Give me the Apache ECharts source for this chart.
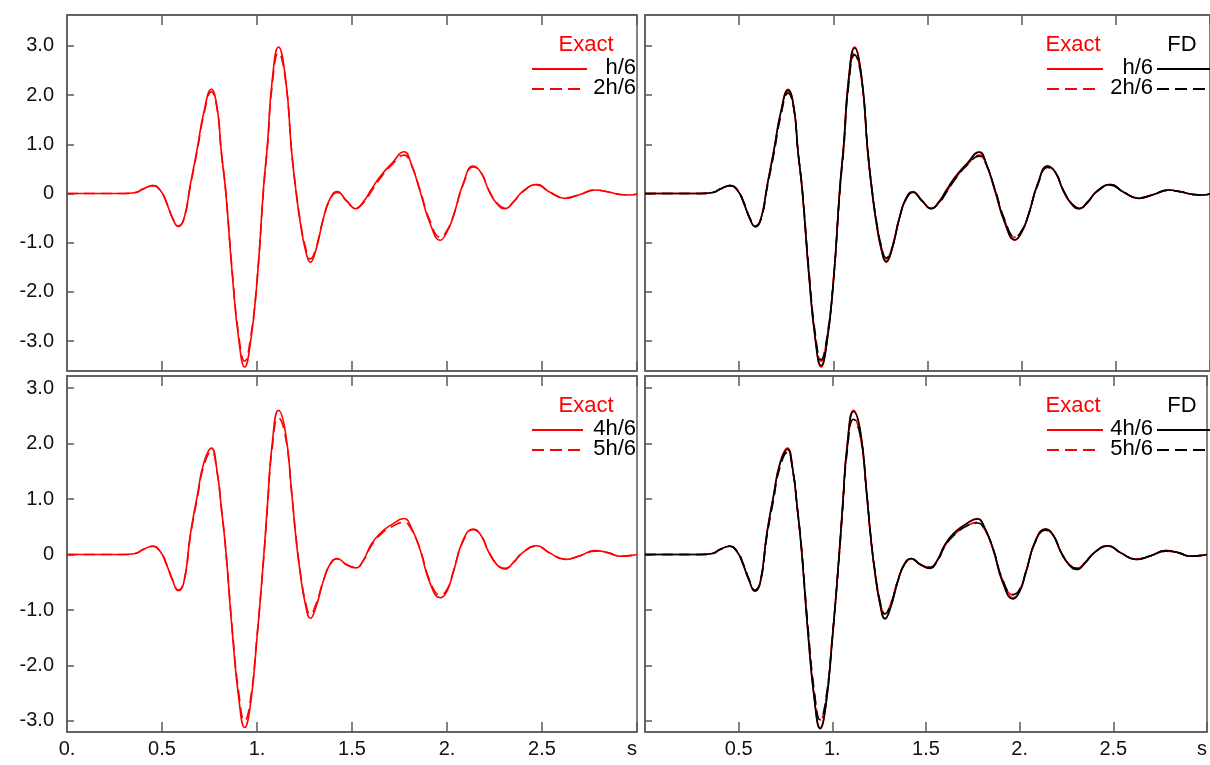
<!DOCTYPE html>
<html>
<head>
<meta charset="utf-8">
<script src="https://cdn.jsdelivr.net/npm/echarts@6/dist/echarts.min.js"></script>
<style>
html,body{margin:0;padding:0;background:#fff;}
#chart{width:1210px;height:765px;}
</style>
</head>
<body>
<div id="chart"></div>
<script>
// ---------- data ----------
const xs = [0, 0.15, 0.30, 0.36, 0.40, 0.45, 0.49, 0.525, 0.555, 0.586,
  0.615, 0.65, 0.685, 0.72, 0.76, 0.79, 0.812, 0.835, 0.87, 0.905,
  0.935, 0.965, 1.0, 1.035, 1.055, 1.08, 1.113, 1.15, 1.183, 1.205,
  1.228, 1.255, 1.281, 1.31, 1.35, 1.385, 1.422, 1.47, 1.52, 1.56,
  1.60, 1.647, 1.709, 1.775, 1.81, 1.858, 1.91, 1.965, 2.0, 2.033,
  2.086, 2.138, 2.18, 2.22, 2.265, 2.305, 2.35, 2.40, 2.472, 2.54,
  2.621, 2.70, 2.779, 2.85, 2.91, 2.96, 3.0];

// top row: h/6 (solid), 2h/6 (dashed)
const exactH1 = [0, 0, 0, 0.02, 0.09, 0.16, 0.07, -0.2, -0.5, -0.67,
  -0.52, 0.2, 0.9, 1.65, 2.12, 1.75, 0.85, 0.05, -1.65, -3.0,
  -3.53, -3.05, -1.8, 0.15, 1.0, 2.3, 2.98, 2.35, 0.82, 0.05,
  -0.6, -1.15, -1.40, -1.15, -0.5, -0.1, 0.04, -0.14, -0.31, -0.17,
  0.07, 0.34, 0.61, 0.85, 0.62, 0.05, -0.6, -0.95, -0.78, -0.47,
  0.21, 0.56, 0.42, 0.06, -0.22, -0.31, -0.17, 0.05, 0.18, 0.03,
  -0.10, -0.02, 0.07, 0.03, -0.02, -0.03, -0.01];
const exactH2 = [0, 0, 0, 0.02, 0.09, 0.16, 0.07, -0.19, -0.49, -0.66,
  -0.52, 0.17, 0.86, 1.6, 2.07, 1.72, 0.85, 0.07, -1.6, -2.92,
  -3.41, -2.96, -1.77, 0.1, 0.95, 2.2, 2.86, 2.3, 0.83, 0.08,
  -0.56, -1.09, -1.33, -1.11, -0.5, -0.12, 0.02, -0.15, -0.3, -0.19,
  0.03, 0.3, 0.58, 0.78, 0.6, 0.07, -0.55, -0.89, -0.75, -0.46,
  0.19, 0.54, 0.42, 0.07, -0.2, -0.3, -0.17, 0.04, 0.18, 0.03,
  -0.09, -0.02, 0.07, 0.03, -0.02, -0.03, -0.01];
const fdH1 = [0, 0, 0, 0.02, 0.09, 0.16, 0.07, -0.2, -0.5, -0.68,
  -0.53, 0.18, 0.88, 1.63, 2.1, 1.76, 0.87, 0.06, -1.63, -2.98,
  -3.5, -3.06, -1.82, 0.12, 0.98, 2.27, 2.96, 2.38, 0.85, 0.07,
  -0.58, -1.13, -1.38, -1.16, -0.52, -0.11, 0.03, -0.14, -0.31, -0.18,
  0.06, 0.33, 0.6, 0.84, 0.63, 0.07, -0.58, -0.94, -0.79, -0.48,
  0.2, 0.56, 0.43, 0.07, -0.21, -0.31, -0.18, 0.05, 0.18, 0.03,
  -0.1, -0.02, 0.07, 0.03, -0.02, -0.03, -0.01];
const fdH2 = [0, 0, 0, 0.02, 0.09, 0.16, 0.08, -0.18, -0.48, -0.66,
  -0.53, 0.14, 0.82, 1.56, 2.04, 1.73, 0.88, 0.1, -1.55, -2.88,
  -3.38, -2.95, -1.8, 0.06, 0.9, 2.15, 2.82, 2.32, 0.88, 0.1,
  -0.53, -1.07, -1.31, -1.12, -0.52, -0.13, 0.02, -0.15, -0.3, -0.2,
  0.02, 0.29, 0.57, 0.76, 0.6, 0.09, -0.53, -0.88, -0.76, -0.47,
  0.18, 0.53, 0.42, 0.08, -0.2, -0.3, -0.18, 0.04, 0.17, 0.03,
  -0.09, -0.02, 0.06, 0.03, -0.02, -0.03, -0.01];

// bottom row: 4h/6 (solid), 5h/6 (dashed)
const exactH4 = [0, 0, 0, 0.02, 0.09, 0.15, 0.06, -0.19, -0.46, -0.65,
  -0.5, 0.38, 1.05, 1.65, 1.92, 1.5, 0.85, 0.1, -1.4, -2.62,
  -3.12, -2.72, -1.5, -0.05, 0.9, 2.0, 2.6, 2.2, 1.1, 0.3,
  -0.35, -0.9, -1.15, -0.95, -0.47, -0.17, -0.07, -0.18, -0.24, -0.1,
  0.18, 0.38, 0.54, 0.65, 0.5, 0.09, -0.51, -0.78, -0.66, -0.32,
  0.27, 0.46, 0.34, 0.04, -0.19, -0.26, -0.14, 0.04, 0.16, 0.03,
  -0.09, -0.02, 0.07, 0.03, -0.03, -0.02, 0];
const exactH5 = [0, 0, 0, 0.02, 0.09, 0.15, 0.06, -0.18, -0.45, -0.64,
  -0.5, 0.34, 1.0, 1.6, 1.86, 1.48, 0.85, 0.12, -1.35, -2.52,
  -3.0, -2.63, -1.47, -0.08, 0.85, 1.92, 2.47, 2.12, 1.1, 0.32,
  -0.31, -0.85, -1.08, -0.9, -0.46, -0.18, -0.08, -0.18, -0.23, -0.11,
  0.15, 0.35, 0.5, 0.58, 0.47, 0.1, -0.47, -0.73, -0.63, -0.31,
  0.25, 0.45, 0.34, 0.05, -0.18, -0.25, -0.14, 0.04, 0.15, 0.03,
  -0.08, -0.02, 0.06, 0.03, -0.03, -0.02, 0];
const fdH4 = [0, 0, 0, 0.02, 0.09, 0.15, 0.06, -0.19, -0.46, -0.66,
  -0.51, 0.36, 1.03, 1.63, 1.9, 1.51, 0.87, 0.11, -1.42, -2.64,
  -3.14, -2.74, -1.53, -0.07, 0.88, 1.98, 2.58, 2.22, 1.13, 0.31,
  -0.34, -0.9, -1.16, -0.97, -0.48, -0.17, -0.07, -0.18, -0.25, -0.11,
  0.17, 0.38, 0.54, 0.64, 0.51, 0.1, -0.5, -0.8, -0.67, -0.33,
  0.26, 0.46, 0.35, 0.05, -0.19, -0.27, -0.15, 0.04, 0.16, 0.03,
  -0.09, -0.02, 0.07, 0.03, -0.03, -0.02, 0];
const fdH5 = [0, 0, 0, 0.02, 0.09, 0.15, 0.07, -0.17, -0.44, -0.64,
  -0.51, 0.31, 0.97, 1.57, 1.84, 1.49, 0.88, 0.14, -1.31, -2.5,
  -2.98, -2.62, -1.5, -0.1, 0.82, 1.88, 2.44, 2.13, 1.13, 0.34,
  -0.3, -0.84, -1.07, -0.91, -0.47, -0.18, -0.08, -0.18, -0.23, -0.12,
  0.14, 0.34, 0.5, 0.57, 0.47, 0.11, -0.46, -0.72, -0.63, -0.31,
  0.24, 0.44, 0.34, 0.05, -0.18, -0.25, -0.14, 0.04, 0.15, 0.03,
  -0.08, -0.02, 0.06, 0.03, -0.03, -0.02, 0];

// ticks and labels
const xTickVals = [0, 0.5, 1, 1.5, 2, 2.5, 3];
const xTickText = ['0.', '0.5', '1.', '1.5', '2.', '2.5', 's'];
const yTickVals = [-3, -2, -1, 0, 1, 2, 3];
const yTickText = ['-3.0', '-2.0', '-1.0', '0', '1.0', '2.0', '3.0'];
const legendHeads = ['Exact', 'FD'];
const topLabels = ['h/6', '2h/6'];
const bottomLabels = ['4h/6', '5h/6'];

// ---------- chart ----------
const RED = '#ff0000', BLACK = '#000000', FRAME = '#5a5a5a', TXT = '#111111';
const FONT = '"Liberation Sans", Arial, sans-serif';
const DASH = [11, 6];

const grids = [
  {left: 67, top: 15, width: 570, height: 356},
  {left: 645, top: 15, width: 570, height: 356},
  {left: 67, top: 376, width: 570, height: 356},
  {left: 645, top: 376, width: 570, height: 356}
].map(g => Object.assign(g, {show: true, borderColor: FRAME, borderWidth: 1.5, backgroundColor: 'transparent'}));

const yRanges = [[-3.61, 3.63], [-3.61, 3.63], [-3.2, 3.22], [-3.2, 3.22]];

const xAxes = [];
const yAxes = [];
for (let i = 0; i < 4; i++) {
  const isBottom = i >= 2;
  const isLeft = (i % 2) === 0;
  const labelVals = isLeft ? xTickVals : xTickVals.slice(1);
  xAxes.push({
    gridIndex: i, type: 'value', min: 0, max: 3, position: 'bottom',
    axisLine: {show: true, onZero: false, lineStyle: {color: FRAME, width: 1.5}},
    axisTick: {show: true, inside: true, length: 10, customValues: xTickVals.slice(1), lineStyle: {color: FRAME, width: 1.5}},
    axisLabel: {show: isBottom, customValues: labelVals, margin: 7, color: TXT, fontSize: 20, fontFamily: FONT,
      alignMaxLabel: 'right',
      formatter: v => { const k = xTickVals.findIndex(t => Math.abs(t - v) < 1e-6); return k >= 0 ? xTickText[k] : ''; }},
    splitLine: {show: false}
  });
  xAxes.push({
    gridIndex: i, type: 'value', min: 0, max: 3, position: 'top',
    axisLine: {show: true, onZero: false, lineStyle: {color: FRAME, width: 1.5}},
    axisTick: {show: true, inside: true, length: 10, customValues: xTickVals.slice(1), lineStyle: {color: FRAME, width: 1.5}},
    axisLabel: {show: false},
    splitLine: {show: false}
  });
  yAxes.push({
    gridIndex: i, type: 'value', min: yRanges[i][0], max: yRanges[i][1],
    axisLine: {show: true, onZero: false, lineStyle: {color: FRAME, width: 1.5}},
    axisTick: {show: true, inside: true, length: 7, customValues: yTickVals, lineStyle: {color: FRAME, width: 1.5}},
    axisLabel: {show: isLeft, customValues: yTickVals, margin: 13, color: TXT, fontSize: 20, fontFamily: FONT,
      formatter: v => { const k = yTickVals.findIndex(t => Math.abs(t - v) < 1e-6); return k >= 0 ? yTickText[k] : ''; }},
    splitLine: {show: false}
  });
}

function pts(ys) { return xs.map((x, i) => [x, ys[i]]); }
function line(name, gi, ys, color, dashed) {
  return {
    name: name, type: 'line', xAxisIndex: gi * 2, yAxisIndex: gi,
    data: pts(ys), showSymbol: false, smooth: 0.5,
    lineStyle: {color: color, width: 1.6, type: dashed ? DASH : 'solid'},
    emphasis: {disabled: true}, silent: true
  };
}

const series = [
  line('Exact h/6', 0, exactH1, RED, false),
  line('Exact 2h/6', 0, exactH2, RED, true),
  line('Exact h/6', 1, exactH1, RED, false),
  line('Exact 2h/6', 1, exactH2, RED, true),
  line('FD h/6', 1, fdH1, BLACK, false),
  line('FD 2h/6', 1, fdH2, BLACK, true),
  line('Exact 4h/6', 2, exactH4, RED, false),
  line('Exact 5h/6', 2, exactH5, RED, true),
  line('Exact 4h/6', 3, exactH4, RED, false),
  line('Exact 5h/6', 3, exactH5, RED, true),
  line('FD 4h/6', 3, fdH4, BLACK, false),
  line('FD 5h/6', 3, fdH5, BLACK, true)
];

// legend blocks drawn as graphics
function txt(s, x, y, color, align) {
  return {type: 'text', x: x, y: y, silent: true,
    style: {text: s, fill: color, font: '22px ' + FONT, textAlign: align, textVerticalAlign: 'middle'}};
}
function seg(x1, x2, y, color, dashed) {
  return {type: 'line', silent: true, shape: {x1: x1, y1: y, x2: x2, y2: y},
    style: {stroke: color, lineWidth: 2, lineDash: dashed ? [12, 6] : null}};
}
const graphics = [];
function legendBlock(dy, labels, withFD, solidEnd, dashEnd) {
  if (withFD) {
    graphics.push(txt(legendHeads[0], 1073, 45 + dy, RED, 'center'));
    graphics.push(txt(legendHeads[1], 1182, 45 + dy, BLACK, 'center'));
    graphics.push(seg(1047, 1103, 69 + dy, RED, false));
    graphics.push(txt(labels[0], 1153, 68 + dy, BLACK, 'right'));
    graphics.push(seg(1157, 1215, 69 + dy, BLACK, false));
    graphics.push(seg(1047, 1099, 89 + dy, RED, true));
    graphics.push(txt(labels[1], 1153, 88 + dy, BLACK, 'right'));
    graphics.push(seg(1157, 1215, 89 + dy, BLACK, true));
  } else {
    graphics.push(txt(legendHeads[0], 586, 45 + dy, RED, 'center'));
    graphics.push(seg(532, solidEnd, 69 + dy, RED, false));
    graphics.push(txt(labels[0], 636, 68 + dy, BLACK, 'right'));
    graphics.push(seg(532, dashEnd, 89 + dy, RED, true));
    graphics.push(txt(labels[1], 636, 88 + dy, BLACK, 'right'));
  }
}
legendBlock(0, topLabels, false, 587, 584);
legendBlock(0, topLabels, true);
legendBlock(361, bottomLabels, false, 583, 582);
legendBlock(361, bottomLabels, true);

const chart = echarts.init(document.getElementById('chart'), null, {renderer: 'canvas'});
chart.setOption({
  animation: false,
  backgroundColor: '#ffffff',
  grid: grids,
  xAxis: xAxes,
  yAxis: yAxes,
  series: series,
  graphic: graphics
});
</script>
</body>
</html>
